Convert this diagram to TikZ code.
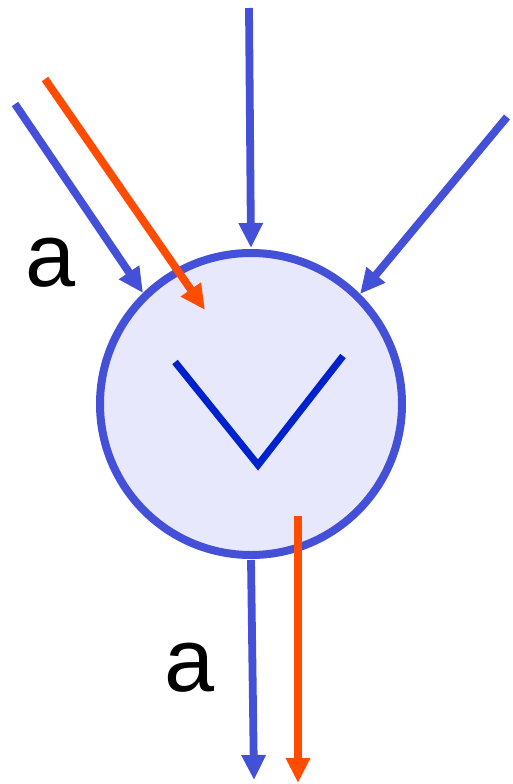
\documentclass[tikz,border=0pt]{standalone}
\usepackage{fontspec}
\setmainfont{Liberation Sans}
\usetikzlibrary{arrows.meta}
\definecolor{cblue}{HTML}{4450D8}
\definecolor{cfill}{HTML}{E8E8FC}
\definecolor{corange}{HTML}{FF4C00}
\definecolor{vblue}{HTML}{0022CC}
\tikzset{
  bluearrow/.style={draw=cblue, line width=7.8pt, -{Triangle[length=25pt,width=23pt]}},
  orangearrow/.style={draw=corange, line width=7.8pt, -{Triangle[length=25pt,width=23pt]}},
  lbl/.style={font=\fontsize{90}{100}\selectfont, inner sep=0pt}
}
\begin{document}
\begin{tikzpicture}[x=1pt,y=-1pt]
\useasboundingbox (0,0) rectangle (512,784);
\node[circle, draw=cblue, fill=cfill, line width=8pt, minimum size=302pt, inner sep=0pt] (c) at (251,404) {};
\coordinate (vl) at (175,362);
\coordinate (vb) at (258,465);
\coordinate (vr) at (343,356);
\draw[vblue, line width=7pt] (vl) -- (vb) -- (vr);
% inputs
\coordinate (ts) at (249,8);   \coordinate (tt) at (251,248);
\coordinate (ls) at (15,104);  \coordinate (lt) at (143,293);
\coordinate (os) at (45,79);   \coordinate (ot) at (205,310);
\coordinate (rs) at (507,117); \coordinate (rt) at (360,294);
% outputs
\coordinate (bs) at (251,560); \coordinate (bt) at (254,780);
\coordinate (obs) at (298,516); \coordinate (obt) at (298,783);
\draw[bluearrow] (ts) -- (tt);
\draw[bluearrow] (ls) -- (lt);
\draw[bluearrow] (rs) -- (rt);
\draw[orangearrow] (os) -- (ot);
\draw[bluearrow] (bs) -- (bt);
\draw[orangearrow] (obs) -- (obt);
\node[lbl] (a1) at (51,263) {a};
\node[lbl] (a2) at (190,668) {a};
\end{tikzpicture}
\end{document}
